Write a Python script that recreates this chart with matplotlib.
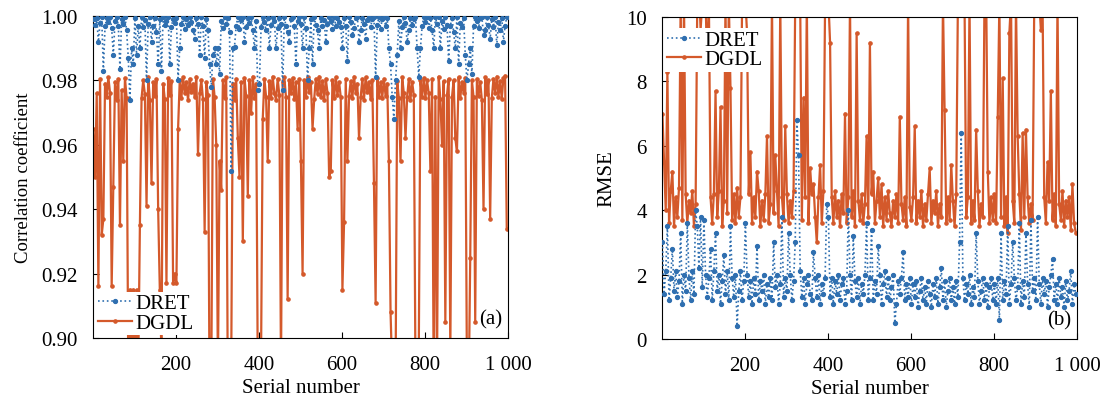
import numpy as np
import matplotlib
matplotlib.use('Agg')
import matplotlib.pyplot as plt

plt.rcParams['font.family'] = ['Liberation Serif', 'DejaVu Serif']

# serial numbers (every 4th sample)
serial = np.arange(1, 1001, 4)

# correlation coefficient, in units of 1e-4
dret_corr = [
    9990, 9972, 9995, 9920, 9978, 9996, 9830, 9968, 9993, 9980, 9997, 9962, 9880, 9985, 9998, 9970, 9835, 9992, 9975, 9996, 9955, 9870, 9740, 9900, 9850,
    9994, 9880, 9970, 9900, 9996, 9965, 9988, 9800, 9975, 9997, 9920, 9969, 9993, 9950, 9850, 9990, 9830, 9996, 9972, 9985, 9998, 9850, 9966, 9992, 9978,
    9995, 9800, 9900, 9975, 9997, 9960, 9990, 9972, 9996, 9982, 9958, 9930, 9993, 9975, 9880, 9997, 9968, 9870, 9992, 9955, 9850, 9780, 9880, 9900, 9850,
    9900, 9820, 9985, 9962, 9997, 9975, 9993, 9950, 9520, 9900, 9905, 9970, 9996, 9960, 9988, 9997, 9920, 9965, 9994, 9978, 9996, 9958, 9900, 9985, 9770,
    9790, 9965, 9996, 9980, 9955, 9993, 9900, 9972, 9998, 9985, 9900, 9962, 9995, 9975, 9770, 9997, 9968, 9950, 9920, 9990, 9997, 9970, 9850, 9985, 9996,
    9975, 9900, 9996, 9962, 9800, 9900, 9990, 9850, 9997, 9972, 9955, 9900, 9995, 9968, 9988, 9920, 9975, 9998, 9985, 9960, 9996, 9970, 9993, 9980, 9965,
    9900, 9995, 9970, 9860, 9997, 9980, 9940, 9962, 9993, 9998, 9920, 9958, 9995, 9975, 9930, 9988, 9997, 9966, 9990, 9996, 9810, 9972, 9998, 9960, 9992,
    9996, 9970, 9993, 9900, 9850, 9750, 9680, 9800, 9880, 9985, 9900, 9965, 9997, 9978, 9920, 9955, 9995, 9972, 9990, 9998, 9900, 9810, 9900, 9968, 9996,
    9980, 9997, 9962, 9993, 9958, 9900, 9996, 9975, 9998, 9900, 9985, 9960, 9997, 9972, 9860, 9968, 9995, 9950, 9900, 9997, 9850, 9978, 9965, 9993, 9880,
    9800, 9850, 9900, 9820, 9970, 9996, 9985, 9962, 9993, 9997, 9940, 9955, 9996, 9972, 9930, 9990, 9966, 9998, 9910, 9980, 9958, 9995, 9920, 9970, 9996,
]
dgdl_corr = [
    9650, 9500, 9760, 9160, 9805, 9320, 9370, 9790, 9748, 9810, 9762, 9160, 9470, 9795, 9740, 9805, 9350, 9770, 9550, 9808, 9745, 8900, 9150, 8800, 9150,
    8950, 9150, 8900, 9350, 9745, 9800, 9758, 9410, 9812, 9740, 9480, 9795, 9752, 9805, 9400, 9150, 8950, 9790, 9742, 9170, 9808, 9755, 9798, 9170, 9200,
    9170, 9650, 9800, 9745, 9810, 9760, 9795, 9738, 9805, 9765, 9790, 9748, 9812, 9570, 9760, 9800, 9742, 9330, 9795, 9755, 8800, 8850, 9805, 9750, 9600,
    8900, 9550, 9460, 9800, 9745, 9810, 8800, 8700, 8900, 9790, 9740, 9805, 9620, 9500, 9795, 9300, 9808, 9752, 9440, 9800, 9700, 9812, 9745, 9790, 8900,
    8800, 8950, 9680, 9805, 9750, 9550, 9798, 9745, 9812, 9760, 9740, 9805, 9755, 8900, 9795, 9810, 9748, 9120, 9800, 9760, 9808, 9742, 9795, 9650, 9805,
    9550, 9200, 9800, 9748, 9810, 9765, 9795, 9650, 9742, 9805, 9758, 9812, 9750, 9798, 9740, 9805, 9762, 9500, 9520, 9800, 9745, 9810, 9755, 9795, 9748,
    9150, 9360, 9805, 9550, 9752, 9798, 9745, 9812, 9760, 9790, 9620, 9748, 9805, 9740, 9810, 9765, 9795, 9742, 9800, 9480, 9110, 9808, 9750, 9795, 9745,
    9805, 9752, 9790, 9550, 9080, 8900, 8700, 8850, 9798, 9745, 9550, 9810, 9760, 9620, 9748, 9805, 9740, 9795, 9755, 8900, 8800, 8950, 9800, 9748, 9808,
    9745, 9800, 9760, 9520, 9805, 8850, 9750, 8900, 9812, 9742, 9600, 9798, 9050, 9755, 9805, 8950, 9748, 9800, 9620, 9580, 9810, 9745, 9795, 9762, 9808,
    8900, 8800, 9250, 9800, 9748, 9050, 9805, 9752, 9795, 9740, 9400, 9810, 9758, 9800, 9370, 9745, 9805, 9762, 9812, 9750, 9798, 9742, 9808, 9815, 9340,
]

# RMSE, in units of 0.1
dret_rmse = [
    30, 14, 21, 35, 12, 19, 28, 15, 21, 13, 18, 33, 11, 20, 15, 36, 19, 12, 21, 14, 40, 35, 22, 38, 16,
    37, 20, 13, 19, 28, 12, 21, 33, 15, 20, 11, 18, 26, 14, 21, 12, 35, 19, 13, 20, 4, 15, 21, 12, 18,
    36, 20, 13, 18, 11, 19, 14, 29, 12, 18, 15, 20, 11, 17, 13, 19, 12, 30, 16, 20, 11, 17, 38, 13, 19,
    15, 33, 20, 12, 18, 30, 68, 57, 21, 13, 19, 11, 17, 20, 14, 12, 27, 19, 13, 20, 11, 17, 14, 19, 42,
    38, 13, 19, 11, 18, 14, 20, 12, 17, 19, 11, 15, 40, 20, 12, 32, 18, 13, 19, 11, 17, 14, 20, 36, 12,
    19, 34, 12, 18, 14, 29, 20, 11, 17, 21, 13, 19, 12, 16, 20, 5, 11, 18, 14, 19, 27, 12, 17, 13, 19,
    11, 17, 13, 18, 10, 15, 19, 12, 16, 11, 18, 14, 10, 17, 13, 19, 11, 16, 22, 12, 18, 10, 15, 19, 12,
    16, 11, 18, 13, 30, 64, 19, 12, 17, 14, 20, 11, 16, 13, 33, 18, 11, 15, 19, 12, 17, 10, 16, 19, 12,
    17, 11, 19, 6, 33, 12, 18, 14, 35, 11, 17, 30, 19, 12, 16, 36, 11, 18, 13, 33, 17, 10, 37, 15, 19,
    12, 38, 17, 11, 19, 14, 18, 10, 16, 20, 25, 12, 17, 11, 19, 13, 16, 10, 18, 12, 15, 21, 11, 17, 14,
]
dgdl_rmse = [
    70, 55, 40, 83, 36, 46, 52, 35, 44, 38, 47, 105, 37, 105, 45, 36, 43, 39, 46, 35, 42, 105, 110, 96, 105,
    110, 105, 84, 105, 44, 36, 45, 77, 38, 46, 72, 35, 43, 105, 39, 105, 78, 37, 45, 36, 47, 38, 44, 105, 110,
    105, 95, 45, 58, 36, 44, 38, 52, 46, 35, 43, 37, 45, 63, 36, 42, 105, 39, 57, 46, 35, 105, 44, 37, 66,
    45, 36, 43, 38, 46, 105, 110, 105, 105, 37, 75, 44, 105, 36, 53, 45, 48, 38, 30, 44, 54, 36, 46, 105, 110,
    105, 92, 44, 36, 46, 38, 43, 35, 45, 39, 70, 36, 44, 105, 38, 46, 35, 95, 43, 37, 45, 36, 42, 63, 38,
    92, 45, 52, 36, 43, 50, 38, 48, 35, 44, 37, 46, 39, 35, 43, 38, 45, 36, 69, 42, 37, 44, 35, 105, 41,
    37, 44, 66, 36, 43, 38, 46, 35, 42, 37, 45, 53, 36, 43, 39, 46, 35, 42, 38, 105, 71, 36, 44, 37, 54,
    43, 35, 45, 105, 110, 105, 110, 105, 38, 44, 105, 36, 43, 37, 65, 46, 35, 42, 38, 105, 110, 52, 36, 44, 37,
    45, 36, 69, 105, 38, 81, 35, 44, 33, 95, 105, 43, 36, 105, 63, 45, 34, 64, 38, 65, 44, 36, 42, 37, 105,
    110, 105, 105, 96, 105, 44, 36, 55, 43, 77, 37, 45, 35, 105, 42, 37, 46, 35, 43, 38, 44, 34, 48, 36, 33,
]

blue = '#2f6fb0'
orange = '#d4592b'

fig = plt.figure(figsize=(11.04, 4.06), dpi=100)
ax1 = fig.add_axes([93 / 1104, 67 / 406, 415 / 1104, 322 / 406])
ax2 = fig.add_axes([662 / 1104, 66 / 406, 415 / 1104, 322 / 406])

panels = [
    (ax1, np.array(dret_corr) / 1e4, np.array(dgdl_corr) / 1e4, 'Correlation coefficient', 13.5, 'lower left', (0.0, 0.0), '(a)'),
    (ax2, np.array(dret_rmse) / 10, np.array(dgdl_rmse) / 10, 'RMSE', 15, 'upper left', (0.0, 0.975), '(b)'),
]

for ax, dret, dgdl, ylab, ysize, loc, anchor, tag in panels:
    ax.plot(serial, dgdl, '-', color=orange, lw=1.6, marker='o', ms=2.3, label='DGDL', zorder=2)
    ax.plot(serial, dret, ':', color=blue, lw=1.2, marker='o', ms=2.8, label='DRET', zorder=3)
    ax.set_xlim(0, 1000)
    ax.set_xticks([200, 400, 600, 800, 1000])
    ax.set_xticklabels(['200', '400', '600', '800', '1 000'])
    ax.set_xlabel('Serial number', fontsize=15, labelpad=3)
    ax.set_ylabel(ylab, fontsize=ysize, labelpad=7)
    ax.tick_params(direction='in', labelsize=15, length=4, top=False, right=False)
    ax.tick_params(axis='x', pad=12)
    ax.tick_params(axis='y', pad=11)
    h, l = ax.get_legend_handles_labels()
    leg = ax.legend(h[::-1], l[::-1], loc=loc, bbox_to_anchor=anchor, fontsize=15, frameon=True,
                    fancybox=False, borderpad=0.1, labelspacing=0.0, handlelength=1.6,
                    handletextpad=0.2, borderaxespad=0.15, framealpha=1)
    leg.get_frame().set_edgecolor('none')
    ax.text(0.985, 0.03, tag, transform=ax.transAxes, ha='right', va='bottom', fontsize=15)

ax1.set_ylim(0.90, 1.00)
ax1.set_yticks([0.90, 0.92, 0.94, 0.96, 0.98, 1.00])
ax1.set_yticklabels(['0.90', '0.92', '0.94', '0.96', '0.98', '1.00'])
ax2.set_ylim(0, 10)
ax2.set_yticks([0, 2, 4, 6, 8, 10])

fig.savefig('out.png', dpi=100)
